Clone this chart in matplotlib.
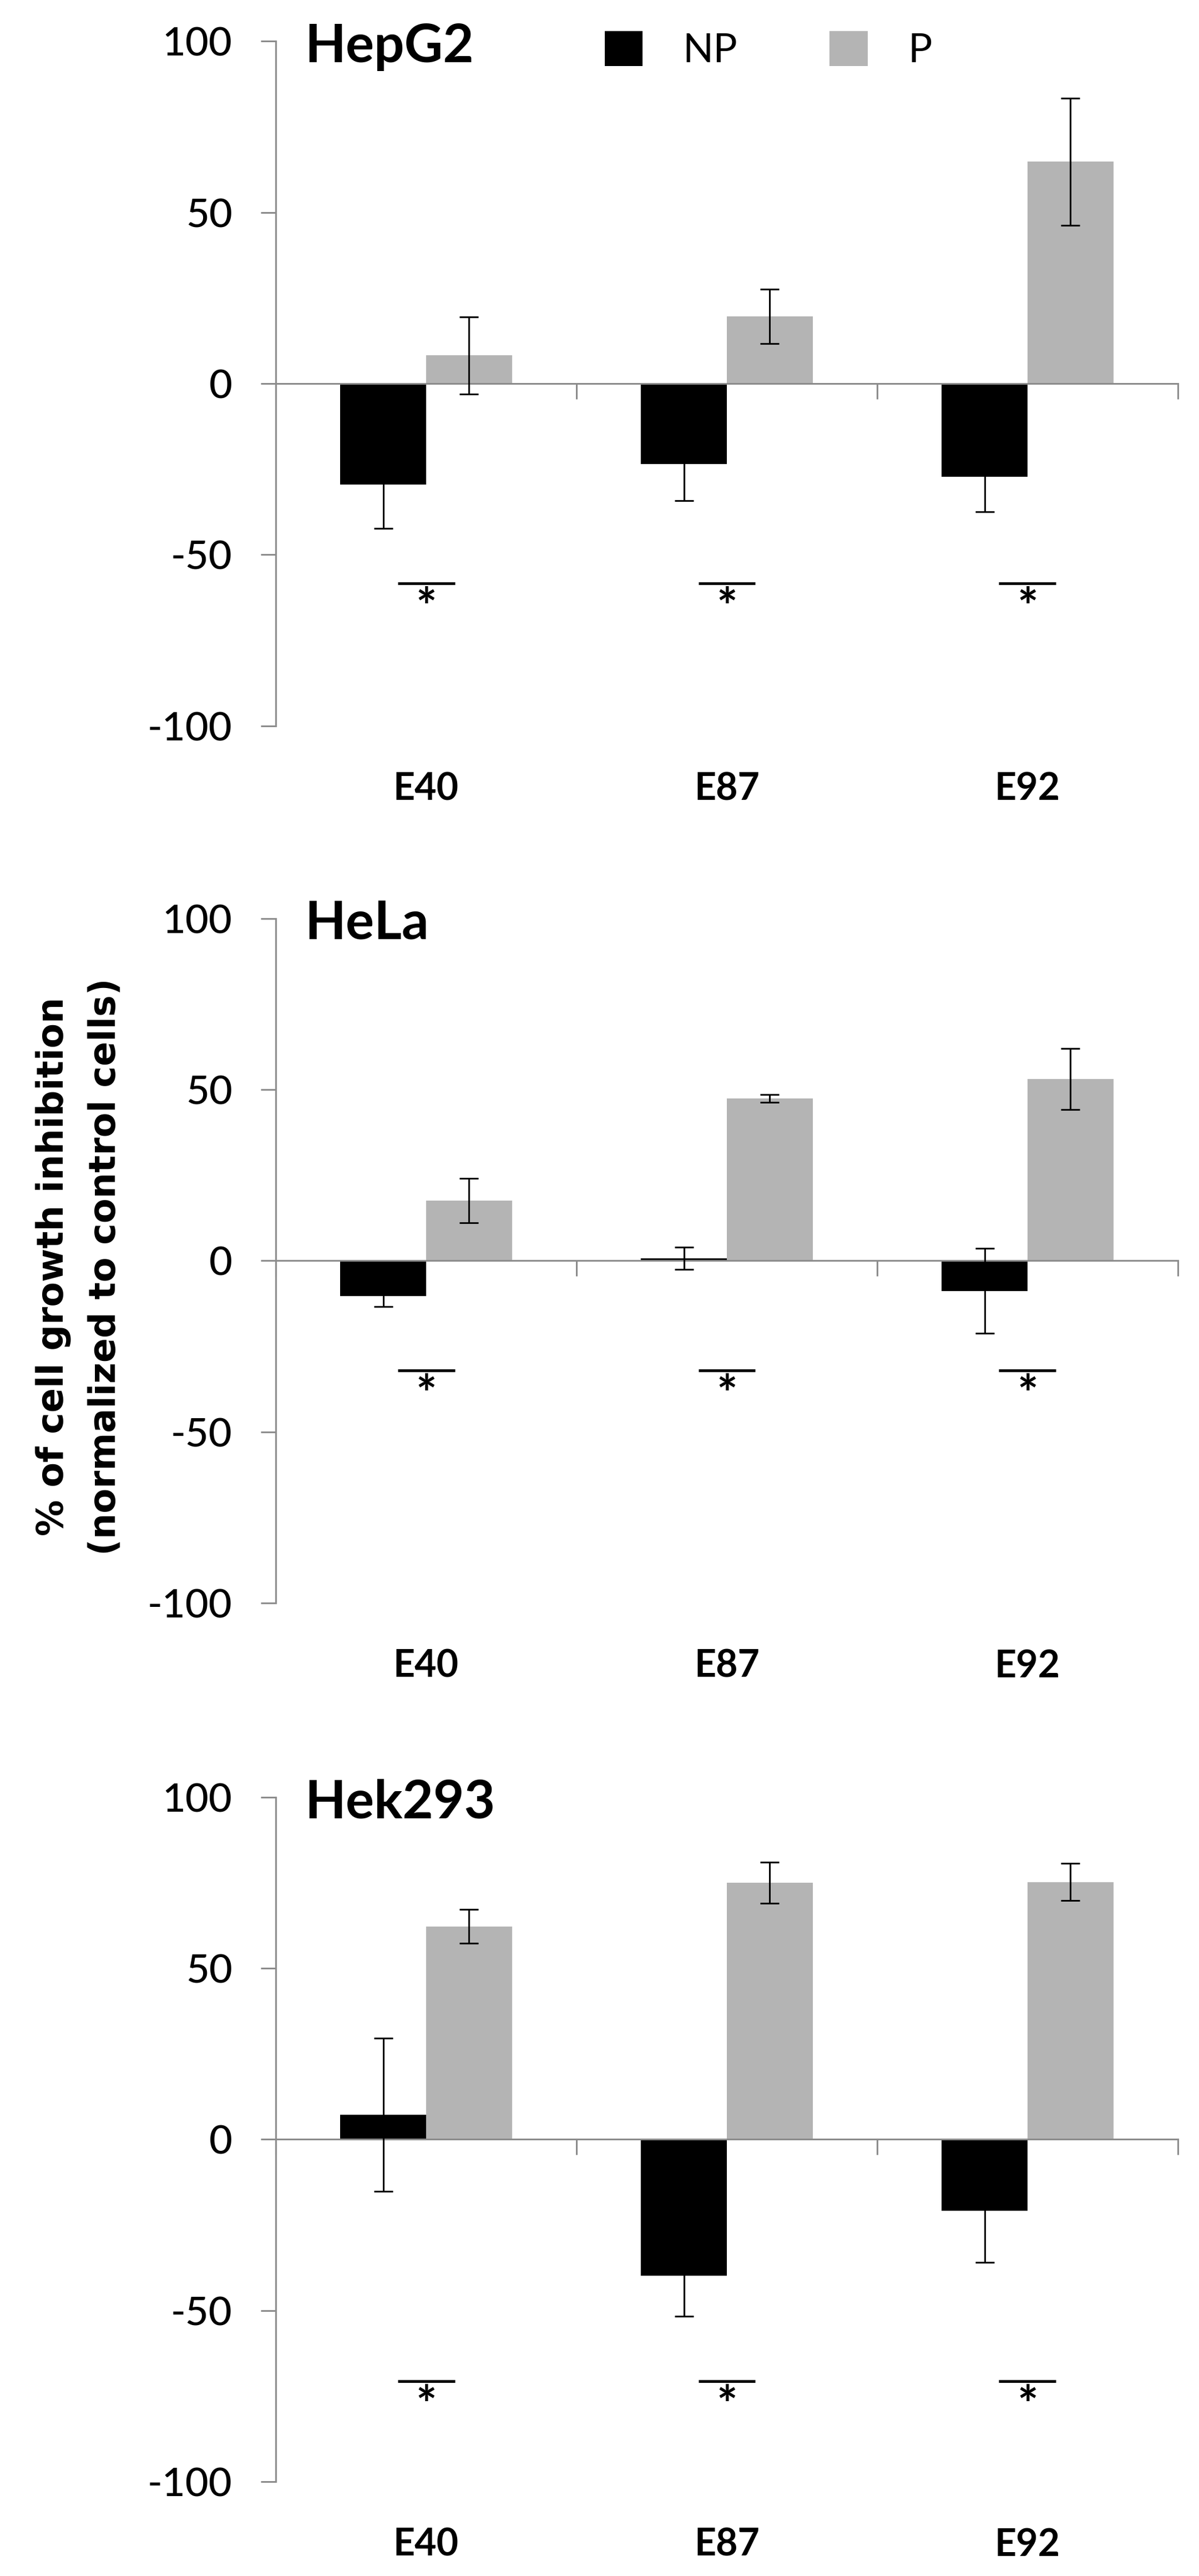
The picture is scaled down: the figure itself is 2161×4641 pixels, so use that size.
import numpy as np
import matplotlib
matplotlib.use("Agg")
import matplotlib.pyplot as plt

plt.rcParams['font.family'] = ['Lato', 'DejaVu Sans']
plt.rcParams['axes.unicode_minus'] = False

categories = ['E40', 'E87', 'E92']
cell_lines = ['HepG2', 'HeLa', 'Hek293']
series_names = ['NP', 'P']

hepg2_np = [-29.5, -23.5, -27.3]
hepg2_np_err = [12.8, 10.7, 10.2]
hepg2_p = [8.2, 19.6, 64.8]
hepg2_p_err = [11.3, 7.9, 18.6]

hela_np = [-10.3, 0.7, -8.8]
hela_np_err = [3.1, 3.2, 12.4]
hela_p = [17.6, 47.4, 53.1]
hela_p_err = [6.5, 1.1, 8.9]

hek_np = [7.2, -39.8, -20.9]
hek_np_err = [22.4, 11.8, 15.1]
hek_p = [62.2, 74.9, 75.2]
hek_p_err = [4.9, 6.0, 5.4]

# height of the "*" significance bar in each panel
sig_y = [-58.3, -32.0, -70.6]

np_vals = [hepg2_np, hela_np, hek_np]
np_errs = [hepg2_np_err, hela_np_err, hek_np_err]
p_vals = [hepg2_p, hela_p, hek_p]
p_errs = [hepg2_p_err, hela_p_err, hek_p_err]

AXIS_GREY = '#8c8c8c'
BAR_GREY = '#b4b4b4'

fig = plt.figure(figsize=(21.61, 46.41), dpi=100)
bottoms = [0.7182, 0.3777, 0.0366]
x = np.arange(len(categories))
w = 0.2857

for k in range(3):
    ax = fig.add_axes([0.230, bottoms[k], 0.7524, 0.2658])
    b1 = ax.bar(x - w / 2, np_vals[k], w, color='black', label=series_names[0], zorder=1)
    b2 = ax.bar(x + w / 2, p_vals[k], w, color=BAR_GREY, label=series_names[1], zorder=1)
    ax.errorbar(x - w / 2, np_vals[k], yerr=np_errs[k], fmt='none', ecolor='black',
                elinewidth=2.2, capsize=11.9, capthick=2.2, zorder=3)
    ax.errorbar(x + w / 2, p_vals[k], yerr=p_errs[k], fmt='none', ecolor='black',
                elinewidth=2.2, capsize=11.9, capthick=2.2, zorder=3)

    for i in x:
        ax.plot([i - 0.095, i + 0.095], [sig_y[k], sig_y[k]], color='black', lw=3.6,
                solid_capstyle='butt', zorder=3)
        ax.text(i, sig_y[k] - 1.2, '*', ha='center', va='top', fontsize=64,
                fontweight='bold')

    ax.set_xlim(-0.5, 2.5)
    ax.set_ylim(-100, 100)
    ax.set_yticks([-100, -50, 0, 50, 100])
    ax.set_xticks([-0.5, 0.5, 1.5, 2.5])
    ax.set_xticklabels([])
    ax.spines['top'].set_visible(False)
    ax.spines['right'].set_visible(False)
    ax.spines['bottom'].set_position(('data', 0))
    for s in ['left', 'bottom']:
        ax.spines[s].set_color(AXIS_GREY)
        ax.spines[s].set_linewidth(2.2)
        ax.spines[s].set_zorder(2)
    ax.tick_params(axis='y', length=19.4, width=2.2, color=AXIS_GREY, pad=37,
                   labelsize=52)
    ax.tick_params(axis='x', length=20.5, width=2.2, color=AXIS_GREY, direction='out')
    for lab in ax.get_yticklabels():
        lab.set_fontweight('medium')

    for i, c in enumerate(categories):
        ax.text(i, -0.0925, c, transform=ax.get_xaxis_transform(), ha='center',
                va='center', fontsize=49, fontweight='bold')

    ax.text(0.032, 0.969, cell_lines[k], transform=ax.transAxes, ha='left',
            va='baseline', fontsize=69, fontweight='bold')

    if k == 0:
        ax.legend(handles=[b1, b2], ncol=2, frameon=False, loc='center',
                  bbox_to_anchor=(0.546, 0.987), fontsize=52, handlelength=0.95,
                  handleheight=0.95, handletextpad=1.0, columnspacing=2.3)

fig.text(0.066, 0.5083, '% of cell growth inhibition\n(normalized to control cells)',
         rotation=90, ha='center', va='center', multialignment='center',
         fontsize=47, fontweight='bold', family=['DejaVu Sans'], linespacing=1.6)

fig.savefig('out.png', dpi=100)
